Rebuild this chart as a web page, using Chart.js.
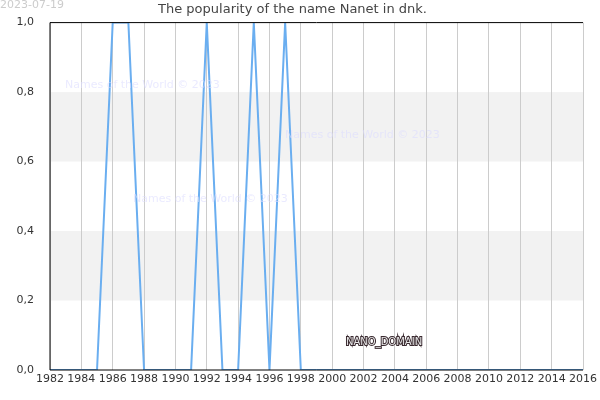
<!DOCTYPE html>
<html><head><meta charset="utf-8">
<script src="https://cdn.jsdelivr.net/npm/chart.js@4/dist/chart.umd.min.js"></script>
<style>body{margin:0;background:#fff}#wrap{width:600px;height:400px;position:relative}</style>
</head><body><div id="wrap"><canvas id="c" width="600" height="400"></canvas></div>
<script>
var years = [];
for (var y = 1982; y <= 2016; y++) years.push(y);
var hits = [1986, 1987, 1992, 1995, 1997];
var values = years.map(function (y) { return hits.indexOf(y) >= 0 ? 1 : 0; });

var bands = {
    id: 'bands',
    beforeDraw: function (chart) {
        var ctx = chart.ctx, a = chart.chartArea, ys = chart.scales.y;
        ctx.save();
        ctx.fillStyle = '#f2f2f2';
        [[0.2, 0.4], [0.6, 0.8]].forEach(function (b) {
            var t = ys.getPixelForValue(b[1]), bo = ys.getPixelForValue(b[0]);
            ctx.fillRect(a.left, t, a.right - a.left, bo - t);
        });
        ctx.restore();
    },
    afterDraw: function (chart) {
        var ctx = chart.ctx, a = chart.chartArea;
        ctx.save();
        ctx.strokeStyle = '#000'; ctx.lineWidth = 1;
        ctx.beginPath();
        ctx.moveTo(a.left, a.bottom); ctx.lineTo(a.left, a.top); ctx.lineTo(a.right, a.top);
        ctx.moveTo(a.left, a.bottom); ctx.lineTo(a.right, a.bottom);
        ctx.stroke();
        ctx.font = '11px "DejaVu Sans"';
        ctx.fillStyle = 'rgba(220,220,255,0.6)';
        ctx.fillText('Names of the World \u00a9 2023', 65, 88);
        ctx.fillText('Names of the World \u00a9 2023', 285, 138);
        ctx.fillText('Names of the World \u00a9 2023', 133, 202);
        ctx.fillStyle = '#ccc';
        ctx.fillText('2023-07-19', 0, 8);
        ctx.font = '10px "DejaVu Sans"';
        ctx.lineWidth = 2; ctx.strokeStyle = '#3a2a30';
        ctx.strokeText('NANO_DOMAIN', 346, 345);
        ctx.fillStyle = '#e8e8e8';
        ctx.fillText('NANO_DOMAIN', 346, 345);
        ctx.restore();
    }
};

new Chart(document.getElementById('c'), {
    type: 'line',
    data: { labels: years, datasets: [{ data: values, borderColor: '#6aaef0', borderWidth: 2, pointRadius: 0, tension: 0, fill: false }] },
    options: {
        responsive: false, animation: false,
        layout: { padding: { right: 15, left: 0, bottom: 0 } },
        plugins: {
            legend: { display: false },
            title: { display: true, text: 'The popularity of the name Nanet in dnk.', color: '#444', font: { family: 'DejaVu Sans', size: 13, weight: 'normal' }, padding: { top: 2, bottom: 5 } }
        },
        scales: {
            x: {
                type: 'linear', min: 1982, max: 2016,
                afterFit: function (s) { s.height = 30; },
                ticks: { stepSize: 2, color: '#333', font: { family: 'DejaVu Sans', size: 11 }, maxRotation: 0, callback: function (v) { return String(v); } },
                grid: { color: '#ccc', drawTicks: false }, border: { display: false }
            },
            y: {
                min: 0, max: 1,
                afterFit: function (s) { s.width = 50; },
                ticks: { stepSize: 0.2, color: '#333', font: { family: 'DejaVu Sans', size: 11 }, padding: 8, callback: function (v) { return v.toFixed(1).replace('.', ','); } },
                grid: { display: false }, border: { display: false }
            }
        }
    },
    plugins: [bands]
});
</script></body></html>
